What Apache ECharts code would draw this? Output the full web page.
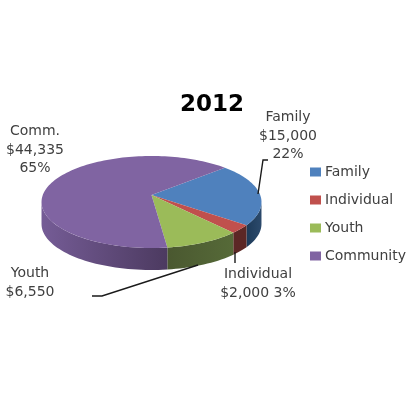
<!DOCTYPE html>
<html><head><meta charset="utf-8">
<style>html,body{margin:0;padding:0;background:#fff}#c{width:416px;height:416px;filter:blur(0.55px)}</style>
<script src="https://cdn.jsdelivr.net/npm/echarts@6/dist/echarts.min.js"></script>
</head><body><div id="c"></div>
<script>
const categories = ['Family', 'Individual', 'Youth', 'Community'];
const values = [15000, 2000, 6550, 44335];
const shortNames = ['Family', 'Individual', 'Youth', 'Comm.'];
const topColors = ['#4f81bd', '#c0504d', '#9bbb59', '#8064a2'];
const wallFrom = ['#1d3a58', '#5c2725', '#4a5830', '#755c96'];
const wallTo = ['#2c4a6c', '#5c2725', '#566a38', '#4c3a60'];
const titleText = '2012';

const total = values.reduce((a, b) => a + b, 0);
const pct = values.map(v => Math.round(v / total * 100) + '%');
const money = values.map(v => '$' + v.toLocaleString('en-US'));

// perspective projection of the pie's circle onto the page
const AX = 151.5, AY = 195, A = 108.7, B = 46, C = 7, K = 0.152, DEPTH = 22, START = 42;
const FRONT_LO = 188.7, FRONT_HI = 351.3;
function proj(deg, dy) {
  const r = deg * Math.PI / 180, s = Math.sin(r), c = Math.cos(r), d = 1 + K * s;
  return [AX + A * c / d, (AY + C) - (B * s + C) / d + (dy || 0)];
}
function arc(a0, a1, dy) {
  const out = [], n = Math.max(2, Math.ceil(Math.abs(a1 - a0) / 2));
  for (let i = 0; i <= n; i++) out.push(proj(a0 + (a1 - a0) * i / n, dy));
  return out;
}
let before = 0;
const series = categories.map((name, i) => {
  const start = before; before += values[i];
  return {
    type: 'custom', name, coordinateSystem: 'none',
    itemStyle: { color: topColors[i] },
    data: [[values[i], start]],
    renderItem(params, api) {
      const sweep = api.value(0) / total * 360;
      const a0 = START - api.value(1) / total * 360;   // clockwise from START
      const a1 = a0 - sweep;
      const children = [];
      for (const shift of [0, 360, 720]) {
        const hi = Math.min(a0 + shift, FRONT_HI), lo = Math.max(a1 + shift, FRONT_LO);
        if (hi > lo) {
          const top = arc(hi, lo, 0), bot = arc(lo, hi, DEPTH);
          children.push({
            type: 'polygon', z2: 1, shape: { points: top.concat(bot) },
            style: { fill: new echarts.graphic.LinearGradient(0, 0, 1, 0, [
              { offset: 0, color: wallFrom[i] }, { offset: 1, color: wallTo[i] }]) }
          });
        }
      }
      children.push({
        type: 'polygon', z2: 2,
        shape: { points: [[AX, AY]].concat(arc(a0, a1, 0)) },
        style: { fill: topColors[i] }
      });
      return { type: 'group', children };
    }
  };
});

const textColor = '#404040';
function label(text, x, y) {
  return { type: 'text', x, y, z: 20, style: {
    text, fill: textColor, font: '14px "DejaVu Sans"', lineHeight: 18.5, align: 'center', verticalAlign: 'middle' } };
}
function line(points) {
  return { type: 'polyline', z: 20, shape: { points }, style: { stroke: '#1a1a1a', lineWidth: 1.4, fill: null } };
}
const graphic = [
  label(shortNames[0] + '\n' + money[0] + '\n' + pct[0], 288, 136),
  label(shortNames[1] + '\n' + money[1] + ' ' + pct[1], 258, 284),
  label(shortNames[2] + '\n' + money[2], 30, 283),
  label(shortNames[3] + '\n' + money[3] + '\n' + pct[3], 35, 150),
  line([[258, 194], [263, 160], [268, 160]]),
  line([[235, 252], [235, 263]]),
  line([[198, 265], [102, 296], [92, 296]])
];

const chart = echarts.init(document.getElementById('c'), null, { renderer: 'canvas' });
chart.setOption({
  animation: false,
  backgroundColor: '#fff',
  title: { text: titleText, left: 212, top: 94, textAlign: 'center',
    textStyle: { fontFamily: 'DejaVu Sans', fontWeight: 'bold', fontSize: 23, color: '#000' }, padding: 0 },
  legend: { orient: 'vertical', left: 310, top: 165, padding: 0, itemWidth: 11, itemHeight: 9, itemGap: 14, icon: 'rect',
    data: categories, textStyle: { fontFamily: 'DejaVu Sans', fontSize: 14, color: textColor, padding: [0, 0, 0, -1] } },
  graphic,
  series
});
</script></body></html>
